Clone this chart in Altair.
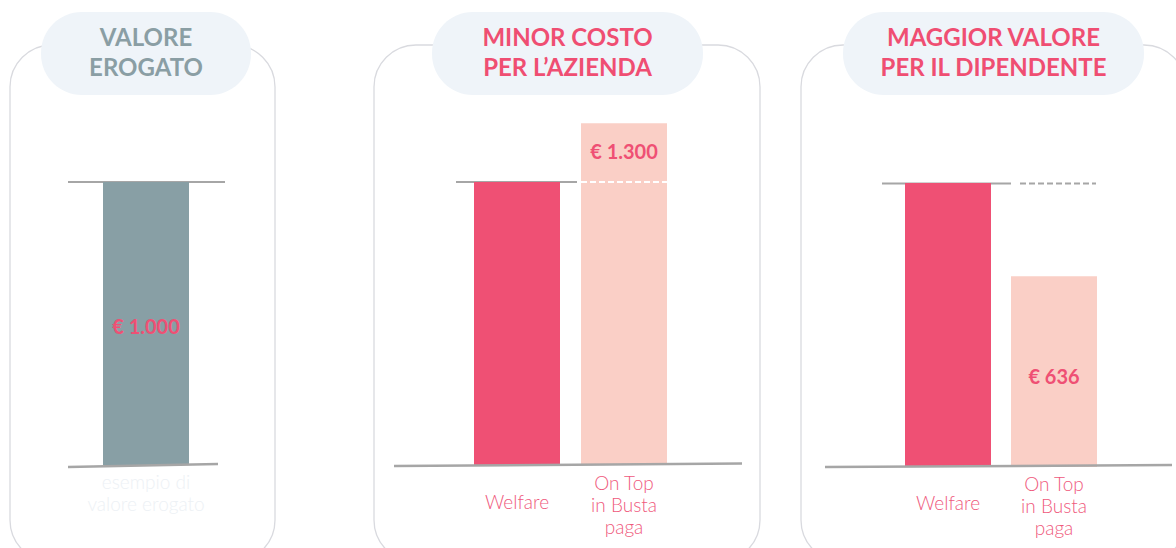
import altair as alt
import pandas as pd

# ---- data ----
p1_cats = ["Valore"]
p1_vals = [1000]
p1_axis = ["esempio di\nvalore erogato"]
p1_value_label = ["€ 1.000"]

p2_cats = ["Welfare", "On Top"]
p2_vals = [1000, 1208]
p2_axis = ["Welfare", "On Top\nin Busta\npaga"]
p2_value_label = ["", "€ 1.300"]

p3_cats = ["Welfare", "On Top"]
p3_vals = [1000, 672]
p3_axis = ["Welfare", "On Top\nin Busta\npaga"]
p3_value_label = ["", "€ 636"]

titles = ["VALORE\nEROGATO", "MINOR COSTO\nPER L’AZIENDA", "MAGGIOR VALORE\nPER IL DIPENDENTE"]

GREY = "#889FA5"
PINK = "#EF5074"
LPINK = "#FACFC6"
PILL = "#EFF4F9"
BOX = "#D9DADF"
BASE = "#A6A6A6"
FONT = "Lato"

one = pd.DataFrame({"k": [0]})


def deco_box(x1, x2):
    return alt.Chart(one).mark_rect(
        cornerRadius=42, fill="white", stroke=BOX, strokeWidth=1.3
    ).encode(x=alt.value(x1), x2=alt.value(x2), y=alt.value(45), y2=alt.value(562))


def pill(x1, x2, title, color):
    p = alt.Chart(one).mark_rect(cornerRadius=41, fill=PILL).encode(
        x=alt.value(x1), x2=alt.value(x2), y=alt.value(12), y2=alt.value(95)
    )
    t = alt.Chart(pd.DataFrame({"t": [title]})).mark_text(
        font=FONT, fontSize=24, fontWeight="bold", color=color, lineBreak="\n",
        lineHeight=30, baseline="middle", align="center"
    ).encode(x=alt.value((x1 + x2) / 2), y=alt.value(39), text="t:N")
    return p + t


def rule(x1, x2, y1, y2, color=BASE, width=2.5, dash=None):
    kw = dict(color=color, strokeWidth=width)
    if dash:
        kw["strokeDash"] = dash
    return alt.Chart(one).mark_rule(**kw).encode(
        x=alt.value(x1), x2=alt.value(x2), y=alt.value(y1), y2=alt.value(y2)
    )


def panel(cats, vals, axis_labels, value_labels, colors, xrange, pad, yrange,
          value_y, axis_color, single_y, multi_y):
    df = pd.DataFrame({"cat": cats, "val": vals, "axis": axis_labels, "vl": value_labels})
    x = alt.X("cat:N", sort=cats, axis=None,
              scale=alt.Scale(domain=cats, range=xrange, paddingInner=pad, paddingOuter=0))
    y = alt.Y("val:Q", axis=None,
              scale=alt.Scale(domain=[0, 1000], range=yrange, nice=False, zero=False))
    base = alt.Chart(df)
    bars = base.mark_bar().encode(
        x=x, y=y,
        color=alt.Color("cat:N", scale=alt.Scale(domain=cats, range=colors), legend=None),
    )
    vtext = base.mark_text(
        font=FONT, fontSize=20, fontWeight="bold", color=PINK, baseline="middle"
    ).encode(x=x, y=alt.value(value_y), text="vl:N")
    style = dict(font=FONT, fontSize=19, fontWeight=300, color=axis_color, lineBreak="\n",
                 lineHeight=22, baseline="middle")
    single = base.transform_filter("indexof(datum.axis, '\\n') < 0").mark_text(**style).encode(
        x=x, y=alt.value(single_y), text="axis:N")
    multi = base.transform_filter("indexof(datum.axis, '\\n') >= 0").mark_text(**style).encode(
        x=x, y=alt.value(multi_y), text="axis:N")
    return alt.layer(bars, vtext, single, multi)


pan1 = panel(p1_cats, p1_vals, p1_axis, p1_value_label, [GREY], [103, 189], 0,
             [465, 182], 328, "#EDF1F5", 503, 483)
pan2 = panel(p2_cats, p2_vals, p2_axis, p2_value_label, [PINK, LPINK], [474, 667], 21 / 107,
             [465, 182], 153, "#EF5A7D", 503, 484)
pan3 = panel(p3_cats, p3_vals, p3_axis, p3_value_label, [PINK, LPINK], [905, 1097], 20 / 106,
             [467, 183], 378, "#EF5A7D", 504, 485)

layers = [
    deco_box(10, 275), deco_box(374, 760), deco_box(801, 1186),
    pill(41, 251, titles[0], "#8A9EA4"),
    pill(432, 703, titles[1], "#EF4E72"),
    pill(843, 1144, titles[2], "#EF4E72"),
    rule(68, 225, 182, 182, width=2),
    rule(456, 577, 182, 182, width=2),
    rule(882, 1011, 183.5, 183.5, width=2),
    pan1, pan2, pan3,
    rule(581, 667, 182, 182, color="white", width=2, dash=[6, 3]),
    rule(1020, 1096, 183.5, 183.5, color=BASE, width=2, dash=[6, 3]),
    rule(68, 218, 467, 464),
    rule(394, 742, 466, 463.5),
    rule(825, 1172, 467, 465),
]

chart = alt.layer(*layers).resolve_scale(
    x="independent", y="independent", color="independent"
).properties(
    width=1176, height=548, autosize=alt.AutoSizeParams(type="none"), padding=0,
    background="white"
).configure_view(stroke=None)

chart.save("out.html", embed_options={"renderer": "svg", "actions": False})
